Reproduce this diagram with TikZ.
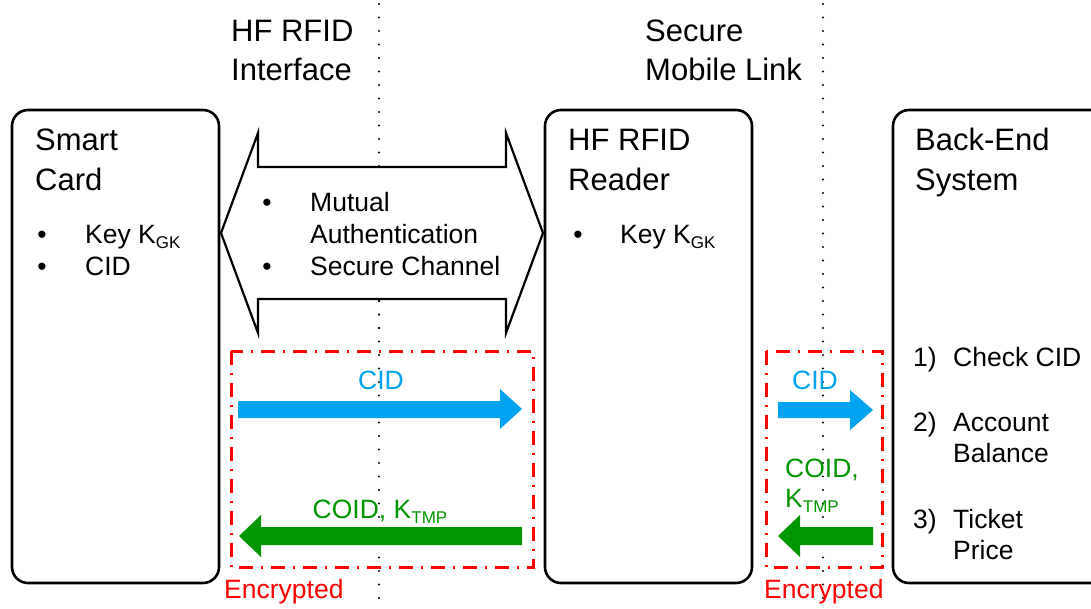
\documentclass[tikz,border=0pt]{standalone}
\usepackage{fontspec}
\setmainfont{Liberation Sans}
\definecolor{cidblue}{RGB}{0,163,239}
\definecolor{coidgreen}{RGB}{0,150,0}
\definecolor{encred}{RGB}{255,0,0}
\newcommand{\subk}[1]{\raisebox{-0.22em}{\fontsize{17}{17}\selectfont #1}}
\begin{document}
\begin{tikzpicture}[x=1pt,y=-1pt,
  body/.style={inner sep=0pt,anchor=base west,font=\fontsize{26.5}{32}\selectfont},
  head/.style={inner sep=0pt,anchor=base west,font=\fontsize{31}{38}\selectfont},
  bul/.style={inner sep=0pt,anchor=base,font=\fontsize{26.5}{32}\selectfont},
  mainbox/.style={draw=black,line width=2.6pt,rounded corners=16pt,fill=white},
  sep/.style={draw=black,line width=2.4pt,line cap=round,dash pattern=on 0pt off 13.5pt},
  enc/.style={draw=encred,line width=3pt,dash pattern=on 14pt off 8pt on 2pt off 8pt},
  blk/.style={draw=black,line width=2.2pt,fill=white,line join=miter},
  bluearrow/.style={fill=cidblue},
  greenarrow/.style={fill=coidgreen}]
\useasboundingbox (0,0) rectangle (1091,608);
\clip (0,0) rectangle (1091,608);
% separator lines
\coordinate (s1t) at (379,4);
\coordinate (s1b) at (379,608);
\coordinate (s2t) at (823,4);
\coordinate (s2b) at (823,608);
\draw[sep] (s1t) -- (s1b);
\draw[sep] (s2t) -- (s2b);
% main boxes
\draw[mainbox] (12,110) rectangle (219,583);
\draw[mainbox] (545,110) rectangle (752,583);
\draw[mainbox] (893,110) rectangle (1120,583);
% double arrow
\draw[blk] (221,233) -- (258,133) -- (258,167) -- (506,167) -- (506,133) -- (543,233)
  -- (506,333) -- (506,299) -- (258,299) -- (258,333) -- cycle;
\draw[sep] (379,301) -- (379,340);
% encrypted regions
\draw[enc] (231,351) rectangle (533,567);
\draw[enc] (766,351) rectangle (882,567);
% arrows
\fill[bluearrow] (238,401) -- (500,401) -- (500,389) -- (522,409) -- (500,429) -- (500,418) -- (238,418) -- cycle;
\fill[greenarrow] (522,527) -- (261,527) -- (261,515) -- (239,536) -- (261,557) -- (261,545) -- (522,545) -- cycle;
\fill[bluearrow] (778,402) -- (850,402) -- (850,390) -- (873,410) -- (850,430) -- (850,418) -- (778,418) -- cycle;
\fill[greenarrow] (873,527) -- (800,527) -- (800,515) -- (778,536) -- (800,557) -- (800,545) -- (873,545) -- cycle;
% top labels
\node[head] (t1a) at (231,41) {HF RFID};
\node[head] (t1b) at (231,80) {Interface};
\node[head] (t2a) at (645,41) {Secure};
\node[head] (t2b) at (645,80) {Mobile Link};
% smart card
\node[head] (sc1) at (35,150) {Smart};
\node[head] (sc2) at (35,190) {Card};
\node[bul] (scb1) at (42,243) {•};
\node[body] (sck) at (85,243) {Key K\subk{GK}};
\node[bul] (scb2) at (42,275) {•};
\node[body] (scc) at (85,275) {CID};
% double arrow text
\node[bul] (db1) at (267,211) {•};
\node[body] (dm1) at (310,211) {Mutual};
\node[body] (dm2) at (310,243) {Authentication};
\node[bul] (db2) at (267,275) {•};
\node[body] (dsc) at (310,275) {Secure Channel};
% reader
\node[head] (rd1) at (568,150) {HF RFID};
\node[head] (rd2) at (568,190) {Reader};
\node[bul] (rdb) at (578,243) {•};
\node[body] (rdk) at (620,243) {Key K\subk{GK}};
% back end
\node[head] (be1) at (915,150) {Back-End};
\node[head] (be2) at (915,190) {System};
\node[body] (n1) at (913,366) {1)};
\node[body] (l1) at (953,366) {Check CID};
\node[body] (n2) at (913,431) {2)};
\node[body] (l2a) at (953,431) {Account};
\node[body] (l2b) at (953,462) {Balance};
\node[body] (n3) at (913,528) {3)};
\node[body] (l3a) at (953,528) {Ticket};
\node[body] (l3b) at (953,559) {Price};
% arrow labels
\node[bul,text=cidblue] (cid1) at (381,389) {CID};
\node[bul,text=coidgreen] (coid1) at (380,518) {COID, K\subk{TMP}};
\node[body,text=cidblue] (cid2) at (792,389) {CID};
\node[body,text=coidgreen] (coid2a) at (785,477) {COID,};
\node[body,text=coidgreen] (coid2b) at (785,507) {K\subk{TMP}};
\node[body,text=encred] (enc1) at (224,598) {Encrypted};
\node[body,text=encred] (enc2) at (764,598) {Encrypted};
\end{tikzpicture}
\end{document}
